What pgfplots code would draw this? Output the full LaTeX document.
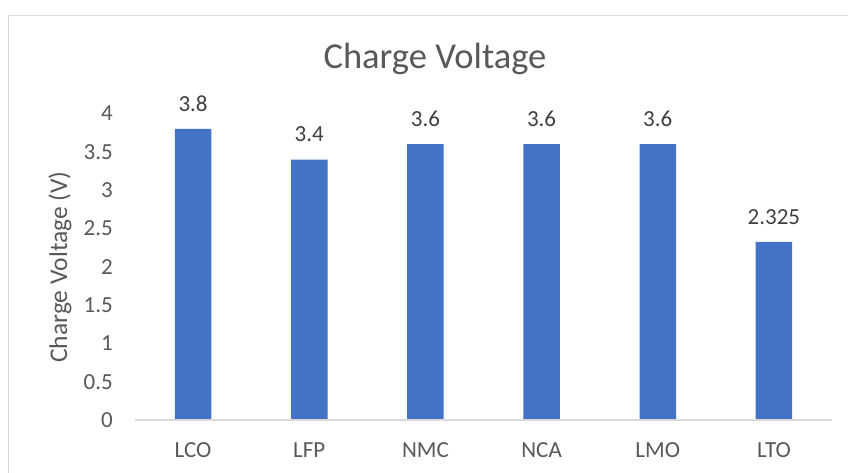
\documentclass[border=0pt]{standalone}
\usepackage{pgfplots}
\pgfplotsset{compat=1.18}
\usepackage{fontspec}
\setmainfont{Carlito}
\definecolor{barblue}{HTML}{4472C4}
\definecolor{txtgray}{HTML}{595959}
\definecolor{lblgray}{HTML}{404040}
\definecolor{linegray}{HTML}{D9D9D9}
\begin{document}
\begin{tikzpicture}[x=1bp,y=1bp]
\path[use as bounding box] (0,0) rectangle (848,473);
\begin{scope}
\clip (0,0) rectangle (848,473);
\fill[white] (0,0) rectangle (848,473);
\draw[linegray, line width=1.2bp] (8.5,-20) -- (8.5,457.5) -- (870,457.5);
\end{scope}
\node[anchor=base, text=txtgray, font=\fontsize{36.5bp}{44bp}\selectfont, inner sep=0pt] at (435,404) {Charge Voltage};
\node[rotate=90, text=txtgray, font=\fontsize{25.5bp}{30bp}\selectfont, inner sep=0pt] at (60,206) {Charge Voltage (V)};
\begin{axis}[
  at={(135bp,53bp)}, anchor=south west,
  scale only axis, width=697bp, height=306.4bp,
  xmin=-0.5, xmax=5.5, ymin=0, ymax=4,
  clip=false,
  axis line style={draw=none},
  major tick length=0pt,
  xtick={0,1,2,3,4,5},
  xticklabels={LCO,LFP,NMC,NCA,LMO,LTO},
  ytick={0,0.5,1,1.5,2,2.5,3,3.5,4},
  yticklabels={0,0.5,1,1.5,2,2.5,3,3.5,4},
  xticklabel style={font=\fontsize{23bp}{28bp}\selectfont, text=txtgray, anchor=base, inner sep=0pt, yshift=-38bp},
  yticklabel style={font=\fontsize{23bp}{28bp}\selectfont, text=txtgray, anchor=east, inner sep=0pt, xshift=-22bp},
  ybar, bar width=36.5bp,
  nodes near coords,
  point meta=explicit symbolic,
  nodes near coords style={font=\fontsize{23bp}{28bp}\selectfont, text=lblgray, anchor=south, inner sep=0pt, yshift=17.5bp},
]
\addplot[fill=barblue, draw=none] coordinates {
  (0,3.8) [3.8]
  (1,3.4) [3.4]
  (2,3.6) [3.6]
  (3,3.6) [3.6]
  (4,3.6) [3.6]
  (5,2.325) [2.325]
};
\draw[linegray, line width=1.2bp] (rel axis cs:0,0) -- (rel axis cs:1,0);
\end{axis}
\end{tikzpicture}
\end{document}
